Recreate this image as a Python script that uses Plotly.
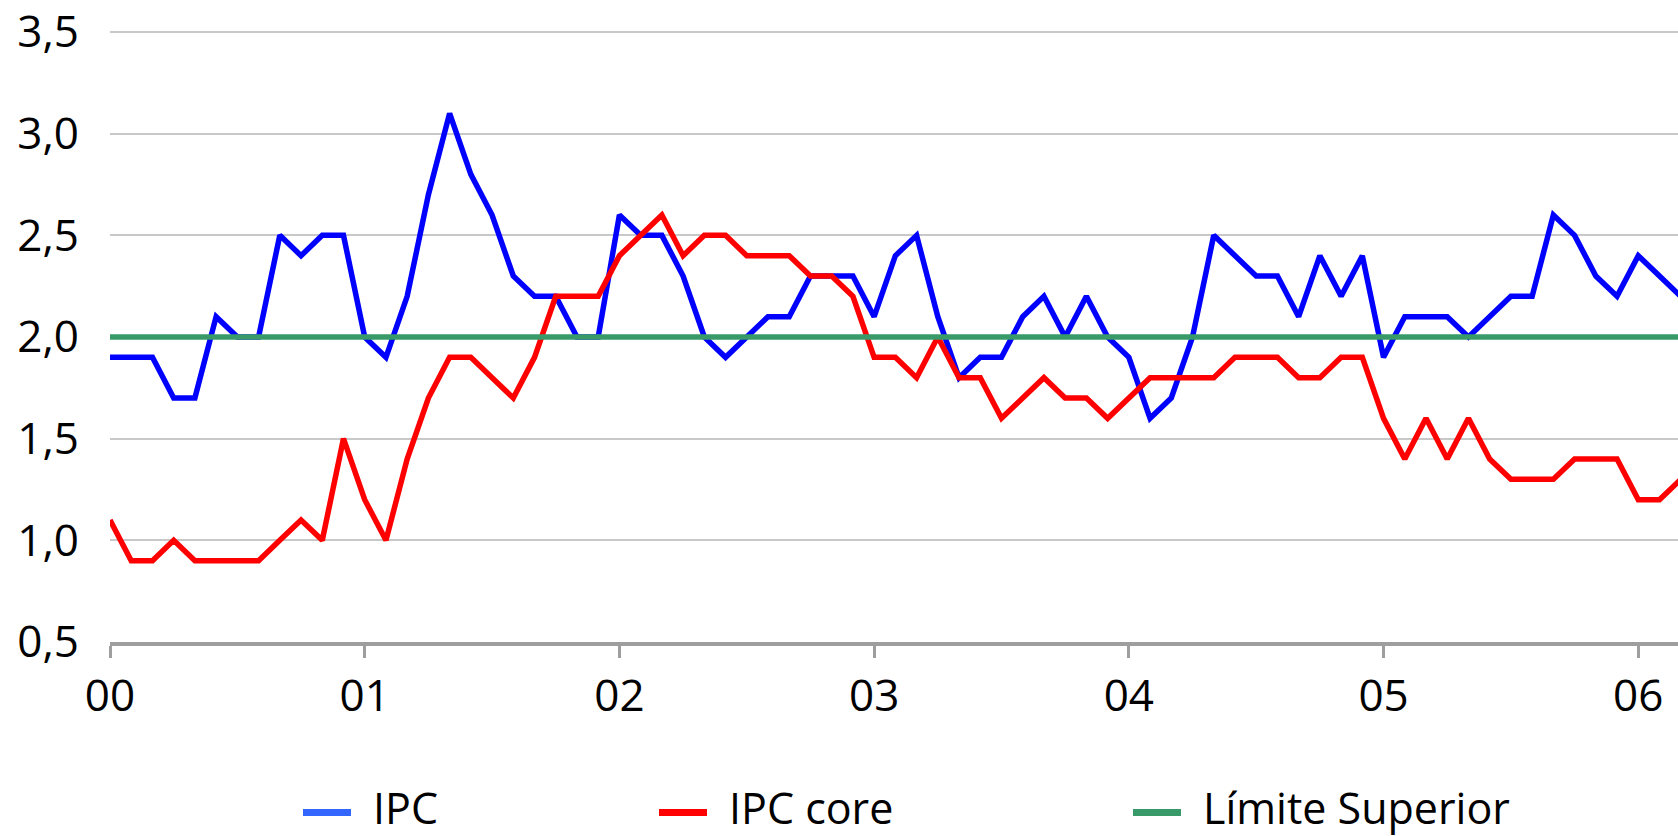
import plotly.graph_objects as go

# Monthly year-on-year inflation, Jan 2000 onwards (percent)
ipc = [1.9, 1.9, 1.9, 1.7, 1.7, 2.1, 2.0, 2.0, 2.5, 2.4, 2.5, 2.5,
       2.0, 1.9, 2.2, 2.7, 3.1, 2.8, 2.6, 2.3, 2.2, 2.2, 2.0, 2.0,
       2.6, 2.5, 2.5, 2.3, 2.0, 1.9, 2.0, 2.1, 2.1, 2.3, 2.3, 2.3,
       2.1, 2.4, 2.5, 2.1, 1.8, 1.9, 1.9, 2.1, 2.2, 2.0, 2.2, 2.0,
       1.9, 1.6, 1.7, 2.0, 2.5, 2.4, 2.3, 2.3, 2.1, 2.4, 2.2, 2.4,
       1.9, 2.1, 2.1, 2.1, 2.0, 2.1, 2.2, 2.2, 2.6, 2.5, 2.3, 2.2,
       2.4, 2.3, 2.2]
ipc_core = [1.1, 0.9, 0.9, 1.0, 0.9, 0.9, 0.9, 0.9, 1.0, 1.1, 1.0, 1.5,
            1.2, 1.0, 1.4, 1.7, 1.9, 1.9, 1.8, 1.7, 1.9, 2.2, 2.2, 2.2,
            2.4, 2.5, 2.6, 2.4, 2.5, 2.5, 2.4, 2.4, 2.4, 2.3, 2.3, 2.2,
            1.9, 1.9, 1.8, 2.0, 1.8, 1.8, 1.6, 1.7, 1.8, 1.7, 1.7, 1.6,
            1.7, 1.8, 1.8, 1.8, 1.8, 1.9, 1.9, 1.9, 1.8, 1.8, 1.9, 1.9,
            1.6, 1.4, 1.6, 1.4, 1.6, 1.4, 1.3, 1.3, 1.3, 1.4, 1.4, 1.4,
            1.2, 1.2, 1.3]
limite_superior = [2.0] * len(ipc)

year_ticks = [0, 1, 2, 3, 4, 5, 6]
year_labels = ["00", "01", "02", "03", "04", "05", "06"]
y_ticks = [0.5, 1.0, 1.5, 2.0, 2.5, 3.0, 3.5]

series_names = ["IPC", "IPC core", "Límite Superior"]
line_colors = ["#0000FF", "#FF0000", "#389A68"]
legend_colors = ["#3366FF", "#FF0000", "#389A68"]

months = [i / 12 for i in range(len(ipc))]

FONT = "Open Sans"
W, H = 1678, 836
M_L, M_R, M_T, M_B = 110, 0, 28, 194
Y_TOP = 3.51

fig = go.Figure()
for name, vals, col in zip(series_names, [ipc, ipc_core, limite_superior], line_colors):
    fig.add_trace(go.Scatter(
        x=months, y=vals, mode="lines", name=name,
        line=dict(color=col, width=5.5), showlegend=False,
    ))

# Legend row drawn beneath the plot (pixel positions converted to paper units)
plot_w = W - M_L - M_R
plot_h = H - M_T - M_B
def px_x(p):
    return (p - M_L) / plot_w
def px_y(p):
    return (H - M_B - p) / plot_h

legend_y = 808
swatch_starts = [303, 659, 1133]
for name, col, sx in zip(series_names, legend_colors, swatch_starts):
    fig.add_shape(type="line", xref="paper", yref="paper",
                  x0=px_x(sx), x1=px_x(sx + 48), y0=px_y(legend_y + 5), y1=px_y(legend_y + 5),
                  line=dict(color=col, width=7))
    fig.add_annotation(xref="paper", yref="paper", x=px_x(sx + 68), y=px_y(legend_y),
                       text=name, showarrow=False, xanchor="left", yanchor="middle",
                       font=dict(family=FONT, size=43, color="#000000"))

fig.update_layout(
    width=W, height=H,
    margin=dict(l=M_L, r=M_R, t=M_T, b=M_B),
    paper_bgcolor="white", plot_bgcolor="white",
    separators=",.",
    font=dict(family=FONT, size=44, color="#000000"),
    xaxis=dict(
        range=[0, 6.156], tickvals=year_ticks, ticktext=year_labels,
        showgrid=False, zeroline=False,
        showline=True, linecolor="#9E9E9E", linewidth=4,
        ticks="outside", ticklen=12, tickwidth=3, tickcolor="#9E9E9E",
        ticklabelstandoff=0, ticklabeloverflow="allow",
        tickfont=dict(family=FONT, size=44),
    ),
    yaxis=dict(
        range=[0.5, Y_TOP], tickvals=y_ticks, tickformat=".1f",
        showgrid=True, gridcolor="#C8C8C8", gridwidth=2,
        zeroline=False, showline=False, ticks="",
        ticklabelstandoff=30, ticklabeloverflow="allow",
        tickfont=dict(family=FONT, size=44),
    ),
)

fig.write_html("out.html")
